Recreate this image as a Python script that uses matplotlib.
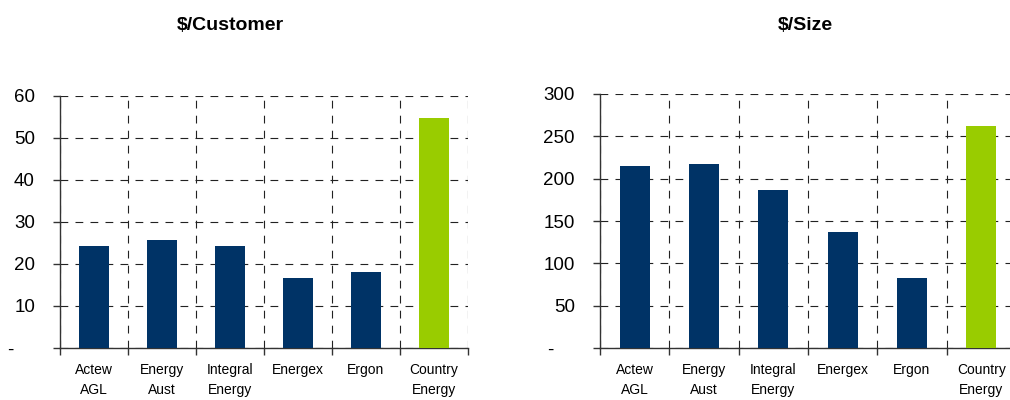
import matplotlib
matplotlib.use("Agg")
import matplotlib.pyplot as plt
import matplotlib.transforms as mtransforms
import numpy as np

plt.rcParams['font.family'] = ['Liberation Sans', 'DejaVu Sans']

categories = ["Actew\nAGL", "Energy\nAust", "Integral\nEnergy", "Energex", "Ergon", "Country\nEnergy"]
per_customer = [24.4, 25.7, 24.4, 16.7, 18.1, 54.8]
per_size = [215, 217, 187, 137, 83, 262]
bar_colors = ["#003366"] * 5 + ["#99CC00"]

fig = plt.figure(figsize=(10.1, 4.0), dpi=100)

def draw(ax, values, ymax, step, title, title_x, dash_shift):
    x = np.arange(len(categories))
    ax.bar(x, values, width=0.43, color=bar_colors, zorder=3)
    ax.set_xlim(-0.5, len(categories) - 0.5)
    ax.set_ylim(0, ymax)
    yt = np.arange(0, ymax + 1, step)
    ax.set_yticks(yt)
    ax.set_yticklabels(["-"] + [str(int(v)) for v in yt[1:]], fontsize=13.5)
    ax.set_xticks(x)
    ax.set_xticklabels(categories, fontsize=10, linespacing=1.5)
    ax.set_xticks(np.arange(-0.5, len(categories)), minor=True)
    ax.tick_params(axis='x', which='major', length=0, pad=11)
    ax.tick_params(axis='x', which='minor', length=5, width=1, direction='out', color='#333333')
    ax.tick_params(axis='y', length=5, width=1, direction='out', pad=13, color='#333333')
    dash = (0, (7, 6.5))
    ax.grid(True, axis='y', which='major', linestyle=dash, color='#222222', linewidth=0.8, zorder=1)
    ax.grid(True, axis='x', which='minor', linestyle=dash, color='#222222', linewidth=0.8, zorder=1)
    for s in ['top', 'right']:
        ax.spines[s].set_visible(False)
    ax.spines['left'].set_linewidth(1)
    ax.spines['bottom'].set_linewidth(1)
    ax.spines['left'].set_color('#333333')
    ax.spines['bottom'].set_color('#333333')
    fig.canvas.draw()
    lab0 = ax.get_yticklabels()[0]
    lab0.set_transform(lab0.get_transform() + mtransforms.ScaledTranslation(-dash_shift / 100, 0, fig.dpi_scale_trans))
    fig.text(title_x, 1 - 25 / 400, title, ha='center', va='center', fontsize=14, fontweight='bold')

ax1 = fig.add_axes([60 / 1010, 0.13, 408 / 1010, 0.63])
draw(ax1, per_customer, 60, 10, "$/Customer", 230 / 1010, 22)
ax2 = fig.add_axes([600 / 1010, 0.13, 416 / 1010, 0.635])
draw(ax2, per_size, 300, 50, "$/Size", 805 / 1010, 22)

fig.savefig("out.png", dpi=100)
